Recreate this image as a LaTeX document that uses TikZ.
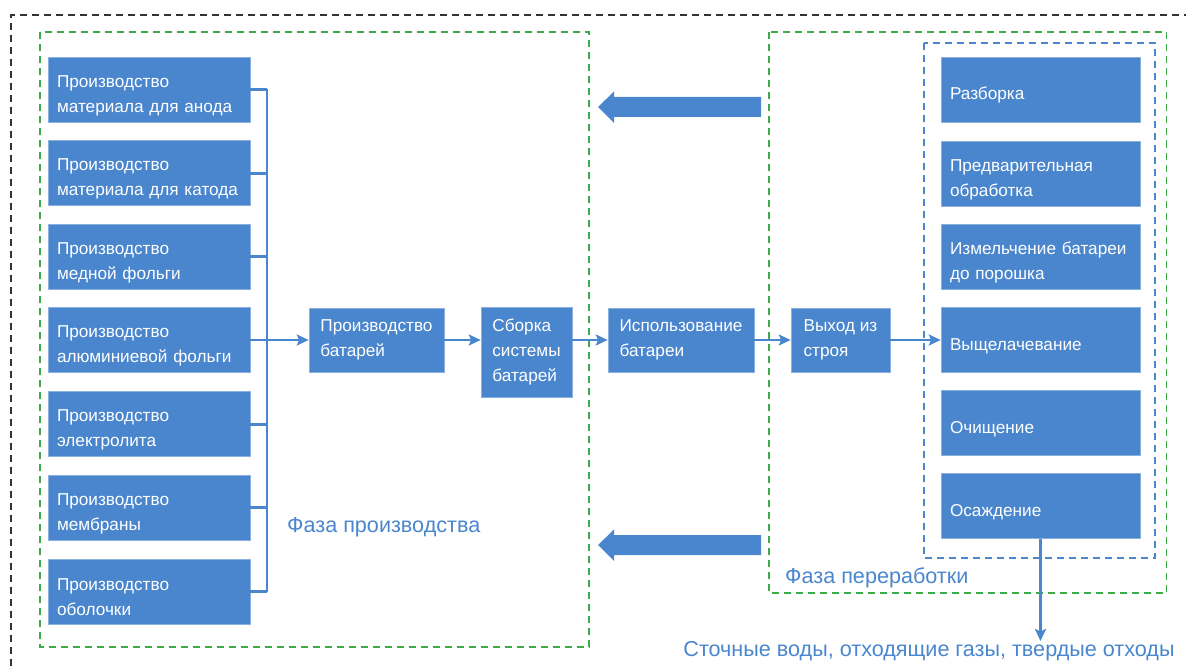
\documentclass[tikz,border=0pt]{standalone}
\usepackage{fontspec}
\setmainfont{Liberation Sans}
\usetikzlibrary{arrows.meta}
\definecolor{boxblue}{RGB}{74,134,206}
\definecolor{phasegreen}{RGB}{60,172,72}
\definecolor{framegray}{RGB}{51,51,51}
\tikzset{
  colbox/.style={rectangle, fill=boxblue, draw=boxblue!65!white, line width=0.6pt,
    text=white, align=left, inner xsep=9pt, inner ysep=0pt, minimum height=65pt,
    text height=24pt, font=\fontsize{17.2}{25}\selectfont},
  leftbox/.style={colbox, text width=184pt},
  rightbox/.style={colbox, text width=181pt},
  midbox/.style={rectangle, fill=boxblue, draw=boxblue!65!white, line width=0.6pt,
    text=white, align=left, inner sep=2pt, font=\fontsize{17.2}{25}\selectfont},
  conn/.style={draw=boxblue, line width=2.7pt},
  phase/.style={text=boxblue, font=\fontsize{21.6}{26}\selectfont, inner sep=0pt},
  frame/.style={dashed, dash pattern=on 7pt off 5pt, line width=1.8pt},
  bigarrow/.style={fill=boxblue}
}
\begin{document}
\begin{tikzpicture}[x=1pt,y=-1pt,>={Stealth[length=12pt,width=11pt,inset=2.5pt]}]
\useasboundingbox (0,0) rectangle (1186,666);
% outer frame, cut at the right and bottom
\draw[frame,draw=framegray] (11,666)--(11,15)--(1186,15);
% phase frames
\draw[frame,draw=phasegreen] (40,32) rectangle (589,647);
\draw[frame,draw=phasegreen] (769,32) rectangle (1166.5,593);
\draw[frame,draw=boxblue] (924,43) rectangle (1155,558);

% production of components
\node[leftbox] (anode) at (149,89.5) {Производство\\материала для анода};
\node[leftbox] (cathode) at (149,173.2) {Производство\\материала для катода};
\node[leftbox] (copper) at (149,256.8) {Производство\\медной фольги};
\node[leftbox] (alum) at (149,340) {Производство\\алюминиевой фольги};
\node[leftbox] (electrolyte) at (149,424.2) {Производство\\электролита};
\node[leftbox] (membrane) at (149,507.8) {Производство\\мембраны};
\node[leftbox] (shell) at (149,591.5) {Производство\\оболочки};

% battery life
\node[midbox, minimum width=135pt, minimum height=64pt] (battprod) at (376.5,340) {Производство\\батарей};
\node[midbox, minimum width=91pt, minimum height=90pt] (assembly) at (526.5,352) {Сборка\\системы\\батарей};
\node[midbox, minimum width=146pt, minimum height=64pt] (use) at (681,340) {Использование\\батареи};
\node[midbox, minimum width=99pt, minimum height=64pt] (failure) at (840.5,340) {Выход из\\строя};

% recycling steps
\node[rightbox] (dismantle) at (1040.5,89.5) {Разборка};
\node[rightbox] (pretreat) at (1040.5,173.5) {Предварительная\\обработка};
\node[rightbox] (crush) at (1040.5,256.5) {Измельчение батареи\\до порошка};
\node[rightbox] (leach) at (1040.5,340) {Выщелачевание};
\node[rightbox] (purify) at (1040.5,423) {Очищение};
\node[rightbox] (precip) at (1040.5,506) {Осаждение};

% labels
\node[phase, anchor=west] (prodphase) at (287,527) {Фаза производства};
\node[phase, anchor=west] (recphase) at (785,578) {Фаза переработки};
\node[phase] (waste) at (929,651) {Сточные воды, отходящие газы, твердые отходы};

% bus from the components
\coordinate (bus) at (267,0);
\draw[conn] (anode.east -| bus)--(shell.east -| bus);
\draw[conn] (anode.east)--(anode.east -| bus);
\draw[conn] (cathode.east)--(cathode.east -| bus);
\draw[conn] (copper.east)--(copper.east -| bus);
\draw[conn] (electrolyte.east)--(electrolyte.east -| bus);
\draw[conn] (membrane.east)--(membrane.east -| bus);
\draw[conn] (shell.east)--(shell.east -| bus);

% main flow
\draw[conn,->] (alum.east)--(battprod.west);
\draw[conn,->] (battprod.east)--(battprod.east -| assembly.west);
\draw[conn,->] (assembly.east |- use.west)--(use.west);
\draw[conn,->] (use.east)--(failure.west);
\draw[conn,->] (failure.east)--(leach.west);
\draw[conn,->] (precip.south)--(precip.south |- waste.north);

% return arrows
\fill[bigarrow] (761,97)--(614,97)--(614,91.5)--(598,107)--(614,123)--(614,117)--(761,117)--cycle;
\fill[bigarrow] (761,535)--(614,535)--(614,529.5)--(598,545)--(614,561)--(614,555)--(761,555)--cycle;
\end{tikzpicture}
\end{document}
